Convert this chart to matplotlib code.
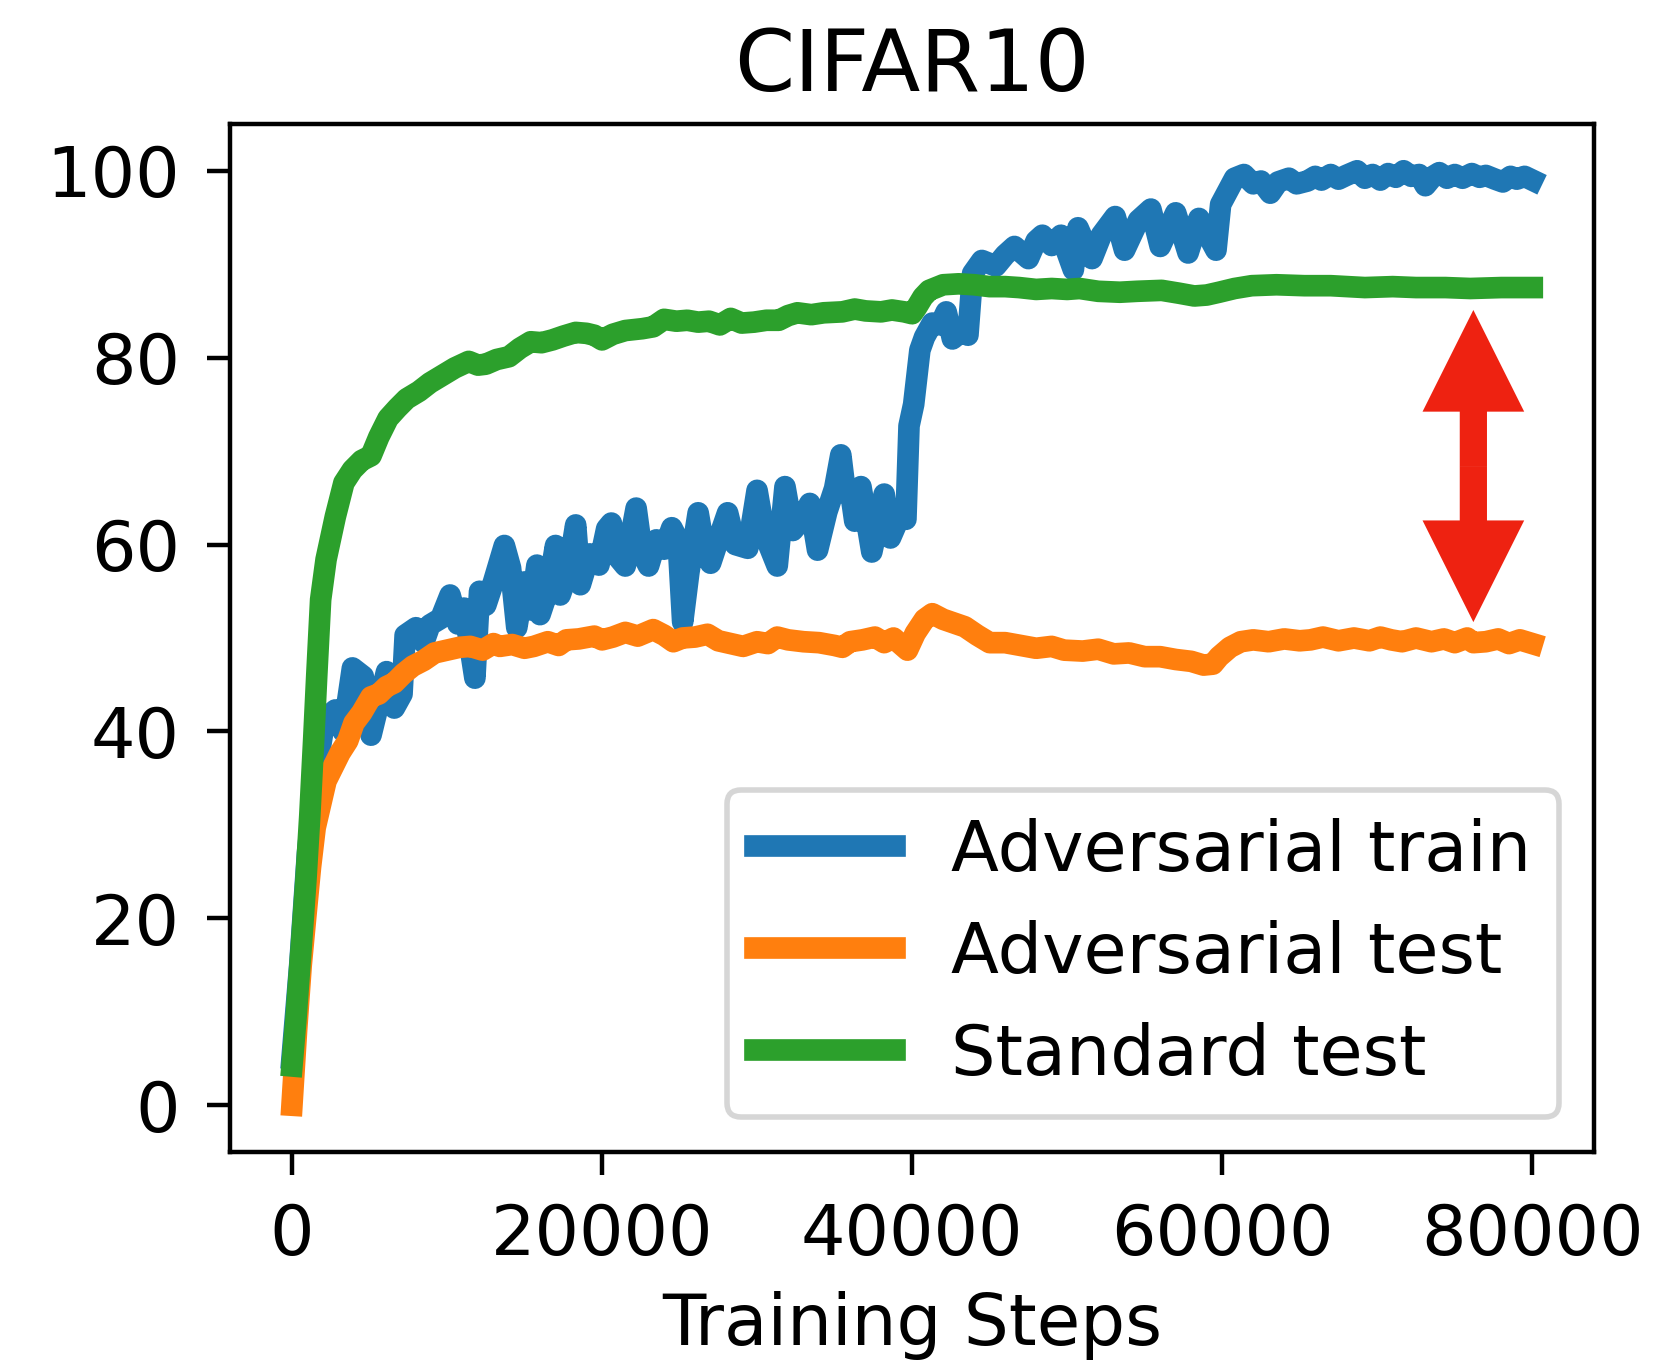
import numpy as np
from matplotlib import pyplot as plt
import matplotlib.patches as mpatches

# Steps are in thousands.
adv_train_steps = [0, 0.5, 1.0, 1.5, 2.0, 2.3, 2.8, 3.3, 3.9, 4.6, 5.1, 5.6, 6.1, 6.6, 7.1, 7.3,
                   8.0, 8.5, 8.9, 9.6, 10.2, 10.7, 11.1, 11.8, 12.1, 12.5, 13.0, 13.7, 14.1, 14.5,
                   15.0, 15.4, 15.8, 16.0, 16.5, 17.0, 17.3, 17.8, 18.3, 18.6, 19.2, 19.8, 20.3,
                   20.6, 21.1, 21.5, 22.2, 22.6, 23.0, 23.5, 24.0, 24.5, 24.9, 25.2, 25.6, 26.2,
                   26.6, 27.0, 27.6, 28.1, 28.6, 29.4, 30.0, 30.5, 31.3, 31.8, 32.3, 32.8, 33.4,
                   33.9, 34.5, 35.0, 35.4, 35.7, 36.0, 36.3, 36.7, 37.4, 38.2, 38.6, 39.2, 39.6,
                   39.8, 40.1, 40.5, 40.8, 41.3, 41.8, 42.2, 42.6, 43.2, 43.6, 43.9, 44.5, 45.4,
                   46.0, 46.6, 47.5, 48.0, 48.4, 49.0, 49.6, 50.4, 50.7, 51.2, 51.6, 52.2, 53.1,
                   53.7, 54.6, 55.4, 56.0, 57.0, 57.8, 58.5, 59.6, 59.9, 60.8, 61.4, 62.0, 62.5,
                   63.1, 63.6, 64.3, 64.8, 65.5, 66.0, 66.4, 67.0, 67.5, 68.0, 68.7, 69.2, 69.7,
                   70.2, 70.7, 71.2, 71.7, 72.2, 72.7, 73.1, 73.6, 74.0, 74.5, 75.0, 75.5, 76.1,
                   76.6, 77.0, 77.6, 78.1, 78.6, 79.0, 79.5, 80.0]
adv_train_acc = [5, 15, 27, 35, 40, 41.6, 42.3, 40.0, 46.8, 45.9, 39.6, 43.0, 46.4, 42.5, 44.0, 50.3,
                 51.1, 49.5, 51.4, 52.1, 54.6, 51.5, 53.2, 45.7, 55.0, 53.5, 56.0, 59.9, 57.5, 51.1,
                 56.0, 53.0, 57.8, 52.5, 55.0, 59.9, 54.6, 57.0, 62.1, 55.7, 59.0, 57.8, 61.7,
                 62.3, 58.5, 57.7, 63.9, 59.0, 57.7, 60.5, 59.5, 61.8, 60.5, 51.7, 57.0, 63.4,
                 59.5, 58.0, 61.0, 63.4, 60.0, 59.6, 65.8, 61.0, 57.7, 66.2, 61.5, 62.5, 64.4,
                 59.4, 63.5, 66.0, 69.6, 65.5, 66.0, 62.5, 66.2, 59.2, 65.4, 60.7, 63.0, 62.7,
                 72.7, 75.0, 80.8, 82.2, 83.7, 83.5, 84.9, 82.0, 82.8, 82.4, 89.0, 90.4, 89.8,
                 91.0, 91.9, 90.6, 92.5, 93.1, 92.0, 93.1, 89.4, 93.9, 92.0, 90.6, 93.1, 95.1,
                 91.5, 94.7, 95.9, 91.9, 95.5, 91.2, 94.9, 91.5, 96.4, 99.2, 99.6, 98.6, 98.9,
                 97.6, 98.8, 99.2, 98.6, 98.9, 99.4, 99.0, 99.6, 99.1, 99.5, 100.0, 99.2, 99.6,
                 99.0, 99.7, 99.3, 100.0, 99.4, 99.6, 98.4, 99.4, 99.8, 99.2, 99.6, 99.2, 99.7,
                 99.3, 99.5, 99.1, 98.8, 99.4, 99.1, 99.4, 99.0]

adv_test_steps = [0, 0.3, 0.6, 0.9, 1.2, 1.5, 2.2, 3.1, 3.6, 4.0, 4.5, 5.1, 5.6, 6.1, 6.6, 7.2, 7.8,
                  8.5, 9.2, 10.0, 10.8, 11.5, 12.3, 13.0, 13.4, 14.2, 15.0, 15.6, 16.5, 17.2, 17.7,
                  18.5, 19.5, 20.0, 20.7, 21.5, 22.3, 23.3, 24.0, 24.6, 25.2, 26.0, 26.8, 27.5,
                  28.3, 29.1, 30.0, 30.7, 31.3, 32.0, 33.0, 34.0, 35.0, 35.5, 36.0, 36.8, 37.6,
                  38.2, 38.8, 39.7, 40.2, 40.8, 41.3, 42.0, 43.4, 44.2, 45.0, 46.0, 47.0, 48.0,
                  49.0, 49.8, 51.0, 52.0, 53.0, 54.0, 55.0, 56.0, 57.0, 58.0, 58.8, 59.4, 59.8,
                  60.5, 61.2, 62.0, 63.0, 64.0, 65.0, 65.7, 66.5, 67.5, 68.5, 69.5, 70.2, 70.9,
                  71.6, 72.5, 73.5, 74.3, 75.0, 75.8, 76.2, 77.0, 77.8, 78.5, 79.2, 80.0]
adv_test_acc = [0, 8, 15, 20.3, 25.5, 29.7, 34.7, 37.7, 39.0, 40.9, 42.0, 43.7, 44.0, 44.8, 45.2, 46.2, 47.0,
                47.6, 48.4, 48.7, 49.0, 49.1, 48.7, 49.4, 49.1, 49.3, 48.9, 49.1, 49.6, 49.2, 49.8,
                49.9, 50.2, 49.8, 50.1, 50.6, 50.2, 50.9, 50.3, 49.6, 50.0, 50.1, 50.4, 49.7,
                49.4, 49.1, 49.6, 49.4, 50.1, 49.8, 49.6, 49.5, 49.2, 49.0, 49.6, 49.8, 50.1,
                49.5, 50.0, 48.7, 50.5, 52.0, 52.6, 52.0, 51.2, 50.3, 49.5, 49.5, 49.2, 48.9,
                49.1, 48.7, 48.6, 48.8, 48.3, 48.4, 48.0, 48.0, 47.7, 47.5, 47.1, 47.2, 48.0,
                49.0, 49.6, 49.8, 49.6, 49.9, 49.7, 49.8, 50.1, 49.7, 50.0, 49.7, 50.1, 49.8,
                49.6, 50.0, 49.6, 49.9, 49.5, 50.0, 49.5, 49.6, 49.9, 49.4, 49.8, 49.4]

std_test_steps = [0, 0.25, 0.6, 0.9, 1.15, 1.4, 1.6, 1.85, 2.2, 2.8, 3.35, 3.9, 4.5, 5.1, 5.6, 6.2,
                  6.8, 7.4, 8.2, 8.9, 9.6, 10.5, 11.4, 12.0, 12.5, 13.2, 14.0, 14.7, 15.4, 16.1,
                  16.8, 17.5, 18.3, 19.0, 19.5, 20.0, 20.7, 21.5, 22.6, 23.3, 24.0, 24.8, 25.5,
                  26.2, 26.9, 27.6, 28.3, 29.0, 29.8, 30.6, 31.4, 32.0, 32.6, 33.5, 34.3, 35.5,
                  36.3, 37.0, 38.0, 38.7, 39.5, 40.0, 40.3, 40.7, 41.1, 42.0, 43.0, 44.0, 45.0,
                  46.0, 46.9, 48.0, 49.0, 50.0, 50.8, 52.0, 53.4, 54.5, 56.1, 57.2, 58.2, 59.0,
                  59.8, 60.8, 61.9, 63.5, 65.3, 67.0, 69.2, 71.0, 72.5, 74.4, 76.0, 78.0, 80.0]
std_test_acc = [4.2, 9.1, 17, 24.1, 31, 39.1, 46, 54.1, 58.4, 63.0, 66.6, 68.0, 69.0, 69.5, 71.5, 73.5,
                74.6, 75.6, 76.4, 77.3, 78.0, 78.9, 79.6, 79.2, 79.3, 79.8, 80.1, 81.0, 81.7, 81.6,
                81.9, 82.3, 82.7, 82.6, 82.4, 81.9, 82.5, 82.9, 83.1, 83.3, 84.1, 83.9, 84.0,
                83.8, 83.9, 83.5, 84.2, 83.7, 83.8, 84.0, 84.0, 84.5, 84.8, 84.6, 84.8, 84.9,
                85.2, 85.0, 84.9, 85.1, 84.9, 84.7, 85.4, 86.5, 87.2, 87.8, 87.9, 87.8, 87.6,
                87.6, 87.5, 87.3, 87.4, 87.3, 87.4, 87.1, 87.0, 87.1, 87.2, 86.9, 86.6, 86.7,
                87.0, 87.4, 87.7, 87.8, 87.7, 87.7, 87.5, 87.6, 87.5, 87.5, 87.4, 87.5, 87.5]

# Red double arrow marking the generalization gap.
gap_x = 76200
gap_top = 85.1
gap_bottom = 51.7


plt.rcParams['font.size'] = 12.6
plt.rcParams['xtick.major.size'] = 4.2
plt.rcParams['ytick.major.size'] = 4.2
plt.rcParams['xtick.major.pad'] = 4.8
plt.rcParams['ytick.major.pad'] = 4.8
fig = plt.figure(dpi=400, figsize=(4.1475, 3.415))
plt.subplots_adjust(left=0.1386, right=0.961, bottom=0.1567, top=0.9092)

plt.plot(np.array(adv_train_steps) * 1000, adv_train_acc, c='C0', lw=3.9, label='Adversarial train')
plt.plot(np.array(adv_test_steps) * 1000, adv_test_acc, c='C1', lw=3.9, label='Adversarial test')
plt.plot(np.array(std_test_steps) * 1000, std_test_acc, c='C2', lw=3.9, label='Standard test')

plt.title('CIFAR10', fontsize=15.5)
plt.xlabel('Training Steps', fontsize=12.75)
plt.legend(loc='lower right')

# Arrow: two filled halves pointing out from the middle.
ax = plt.gca()
gap_mid = (gap_top + gap_bottom) / 2
style = 'simple,head_length=18.3,head_width=18.3,tail_width=4.9'
for tip in (gap_top, gap_bottom):
    ax.add_patch(mpatches.FancyArrowPatch((gap_x, gap_mid), (gap_x, tip), arrowstyle=style,
                                          mutation_scale=1, shrinkA=0, shrinkB=0,
                                          color='#ee2211', lw=0))

plt.savefig('out.png', dpi=400)
